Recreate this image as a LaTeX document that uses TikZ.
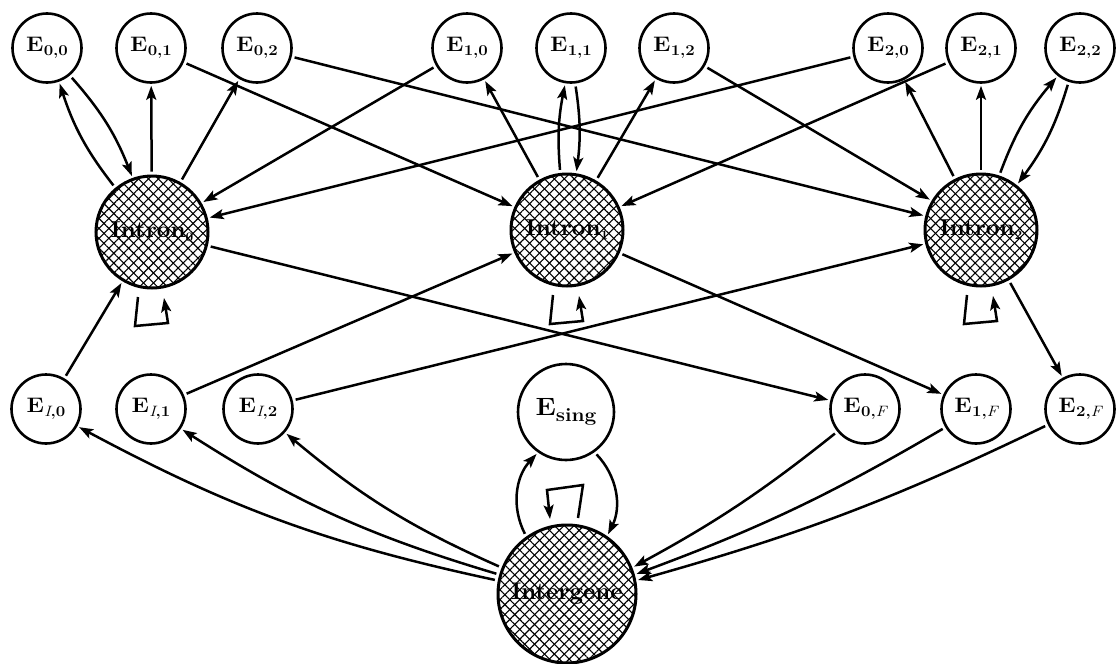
\documentclass[tikz,border=0pt]{standalone}
\usetikzlibrary{patterns.meta,arrows.meta,calc}
\newcommand\Lab[1]{\scalebox{1.12}[1]{\textbf{E}\kern0.3pt\raisebox{-4.5pt}{\fontsize{15}{17}\selectfont\bfseries #1}}}
\newcommand\Hub[2]{\scalebox{1.05}[1]{#1\raisebox{-4pt}{\fontsize{13}{15}\selectfont\bfseries #2}}}
\begin{document}
\begin{tikzpicture}[x=1pt,y=-1pt,
  ex/.style={circle,draw,line width=2.6pt,minimum size=69pt,inner sep=0pt,
    font=\fontsize{21}{25}\selectfont},
  hub/.style={circle,draw,line width=3pt,inner sep=0pt,
    preaction={pattern={Lines[angle=45,distance=7pt,line width=1.1pt]}},
    preaction={pattern={Lines[angle=-45,distance=7pt,line width=1.1pt]}},
    font=\fontsize{23}{27}\selectfont\bfseries},
  arr/.style={line width=2.5pt,-{Stealth[length=14pt,width=10pt,inset=3pt]},shorten <=3pt,shorten >=2pt}]
\useasboundingbox (0,0) rectangle (1117,664);

% top row
\node[ex] (E00) at (47,48)  {\Lab{0,0}};
\node[ex] (E01) at (151,48) {\Lab{0,1}};
\node[ex] (E02) at (257,48) {\Lab{0,2}};
\node[ex] (E10) at (467,48) {\Lab{1,0}};
\node[ex] (E11) at (571,48) {\Lab{1,1}};
\node[ex] (E12) at (674,48) {\Lab{1,2}};
\node[ex] (E20) at (888,48) {\Lab{2,0}};
\node[ex] (E21) at (981,48) {\Lab{2,1}};
\node[ex] (E22) at (1080,48) {\Lab{2,2}};

% introns
\node[hub,minimum size=112pt] (I0) at (152,232) {\Hub{Intron}{0}};
\node[hub,minimum size=112pt] (I1) at (567,230) {\Hub{Intron}{1}};
\node[hub,minimum size=112pt] (I2) at (981,230) {\Hub{Intron}{2}};

% bottom row
\node[ex] (EI0) at (46,409)  {\Lab{{\mdseries\itshape I},0}};
\node[ex] (EI1) at (151,409) {\Lab{{\mdseries\itshape I},1}};
\node[ex] (EI2) at (258,409) {\Lab{{\mdseries\itshape I},2}};
\node[ex,minimum size=96pt,font=\fontsize{25}{28}\selectfont] (Es) at (566,412)
  {\scalebox{1.1}[1]{\textbf{E}\raisebox{-6pt}{\fontsize{19}{22}\selectfont\bfseries sing}}};
\node[ex] (E0F) at (865,409) {\Lab{0,{\mdseries\itshape F}}};
\node[ex] (E1F) at (976,409) {\Lab{1,{\mdseries\itshape F}}};
\node[ex] (E2F) at (1080,409) {\Lab{2,{\mdseries\itshape F}}};

% intergene
\node[hub,minimum size=138pt,font=\fontsize{24}{28}\selectfont\bfseries] (IG) at (567,594) {Intergene};

% intron 0 fan
\draw[arr] (I0) to[bend left=10] (E00);
\draw[arr] (E00) to[bend left=10] (I0);
\draw[arr] (I0) -- (E01);
\draw[arr] (I0) -- (E02);
% intron 1 fan
\draw[arr] (I1) -- (E10);
\draw[arr] (I1) to[bend left=8] (E11);
\draw[arr] (E11) to[bend left=8] (I1);
\draw[arr] (I1) -- (E12);
% intron 2 fan
\draw[arr] (I2) -- (E20);
\draw[arr] (I2) -- (E21);
\draw[arr] (I2) to[bend left=10] (E22);
\draw[arr] (E22) to[bend left=10] (I2);

% crossing edges
\draw[arr] (E01) -- (I1);
\draw[arr] (E02) -- (I2);
\draw[arr] (E10) -- (I0);
\draw[arr] (E20) -- (I0);
\draw[arr] (E12) -- (I2);
\draw[arr] (E21) -- (I1);

% bottom connections
\draw[arr] (EI0) -- (I0);
\draw[arr] (EI1) -- (I1);
\draw[arr] (EI2) -- (I2);
\draw[arr] (I0) -- (E0F);
\draw[arr] (I1) -- (E1F);
\draw[arr] (I2) -- (E2F);

% self loops on introns
\foreach \n in {I0,I1,I2}{
  \draw[arr,shorten <=0pt,shorten >=0pt]
    ($(\n)+(-14,65)$) -- ($(\n)+(-17,94)$) -- ($(\n)+(16,91)$) -- ($(\n)+(12,66)$);
}

% intergene
\draw[arr] (IG.169) to[bend left=8] (EI0);
\draw[arr] (IG.164) to[bend left=8] (EI1);
\draw[arr] (IG.158) to[bend left=8] (EI2);
\draw[arr] (E0F) to[bend left=5] (IG.22);
\draw[arr] (E1F) to[bend left=5] (IG.16);
\draw[arr] (E2F) to[bend left=5] (IG.11);

\draw[arr] (IG) to[bend left=35] (Es);
\draw[arr] (Es) to[bend left=35] (IG);
\draw[arr,shorten <=0pt,shorten >=0pt]
  ($(IG)+(11,-76)$) -- ($(IG)+(16,-109)$) -- ($(IG)+(-20,-104)$) -- ($(IG)+(-17,-75)$);
\end{tikzpicture}
\end{document}
